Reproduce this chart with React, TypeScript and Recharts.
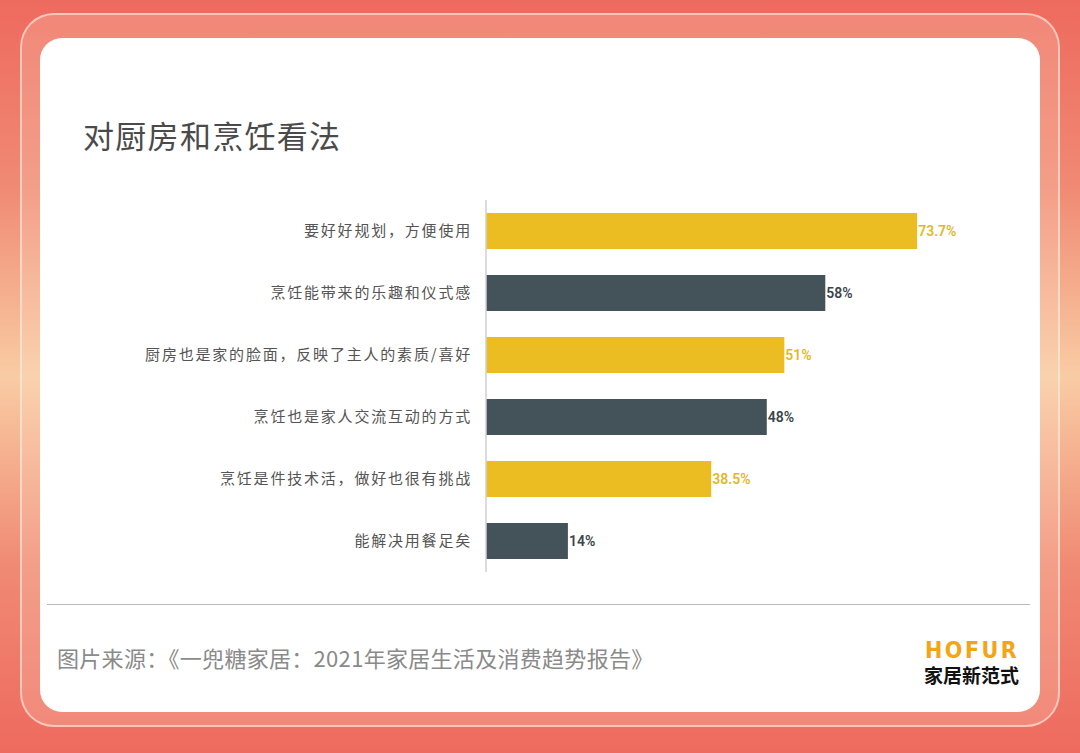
import React from "react";
import { BarChart, Bar, XAxis, YAxis, Cell, LabelList } from "recharts";

const categories = [
  "要好好规划，方便使用",
  "烹饪能带来的乐趣和仪式感",
  "厨房也是家的脸面，反映了主人的素质/喜好",
  "烹饪也是家人交流互动的方式",
  "烹饪是件技术活，做好也很有挑战",
  "能解决用餐足矣",
];
const shares = [73.7, 58, 51, 48, 38.5, 14];
const shareLabels = ["73.7%", "58%", "51%", "48%", "38.5%", "14%"];

const barColors = ["#ebbd22", "#44525a"];
const labelColors = ["#e2b828", "#3b454c"];

const data = categories.map((name, i) => ({ name, value: shares[i], label: shareLabels[i] }));

const cjk = '"Noto Sans CJK SC", "Noto Sans", sans-serif';

const ValueLabel = (props: any) => {
  const { x, y, width, height, index } = props;
  return (
    <text
      x={x + width + 1}
      y={y + height / 2}
      dominantBaseline="central"
      fill={labelColors[index % 2]}
      fontFamily='Roboto, "Noto Sans", sans-serif'
      fontWeight={600}
      fontSize={14}
    >
      {data[index].label}
    </text>
  );
};

export default function App() {
  return (
    <div
      style={{
        position: "absolute",
        left: 0,
        top: 0,
        width: 1080,
        height: 753,
        overflow: "hidden",
        background:
          "linear-gradient(180deg, #ee6a5e 0%, #f08a74 25%, #f9cca4 50%, #f08a74 75%, #ee6a5e 100%)",
        fontFamily: cjk,
      }}
    >
      <div
        style={{
          position: "absolute",
          left: 20,
          top: 13,
          width: 1036,
          height: 710,
          borderRadius: 34,
          border: "2px solid rgba(255,240,230,0.6)",
          background: "rgba(255,230,210,0.22)",
        }}
      />
      <div
        style={{
          position: "absolute",
          left: 40,
          top: 38,
          width: 1000,
          height: 674,
          borderRadius: 22,
          background: "#ffffff",
        }}
      />
      <div
        style={{
          position: "absolute",
          left: 83,
          top: 112,
          fontSize: 31,
          color: "#4a4a4a",
          letterSpacing: 1.3,
          whiteSpace: "nowrap",
        }}
      >
        对厨房和烹饪看法
      </div>
      <div style={{ position: "absolute", left: 40, top: 190 }}>
        <BarChart
          width={1000}
          height={400}
          data={data}
          layout="vertical"
          margin={{ top: 10, right: 86, bottom: 18, left: 0 }}
          barCategoryGap="21%"
        >
          <XAxis type="number" domain={[0, 80]} hide />
          <YAxis
            type="category"
            dataKey="name"
            width={446}
            tickLine={false}
            tickMargin={8}
            axisLine={{ stroke: "#d0d0d0", strokeWidth: 1.5 }}
            interval={0}
            tick={{ fill: "#555555", fontSize: 15, fontFamily: cjk, letterSpacing: 1.8 }}
          />
          <Bar dataKey="value" isAnimationActive={false}>
            {data.map((d, i) => (
              <Cell key={d.name} fill={barColors[i % 2]} />
            ))}
            <LabelList dataKey="label" content={ValueLabel} />
          </Bar>
        </BarChart>
      </div>
      <div
        style={{
          position: "absolute",
          left: 47,
          top: 604,
          width: 983,
          height: 0,
          borderTop: "1.5px solid #b8b8b8",
        }}
      />
      <div
        style={{
          position: "absolute",
          left: 57,
          top: 641,
          fontSize: 22,
          color: "#8a8a8a",
          whiteSpace: "nowrap",
          letterSpacing: 0.3,
        }}
      >
        图片来源：《一兜糖家居：2021年家居生活及消费趋势报告》
      </div>
      <div
        style={{
          position: "absolute",
          left: 925,
          top: 638,
          width: 94,
          textAlign: "center",
          fontFamily: '"Liberation Sans Narrow", "DejaVu Sans Condensed", Roboto, sans-serif',
          fontWeight: 700,
          fontSize: 23,
          lineHeight: "24px",
          color: "#f2a516",
          letterSpacing: 2.5,
        }}
      >
        HOFUR
      </div>
      <div
        style={{
          position: "absolute",
          left: 924,
          top: 663,
          fontSize: 19,
          lineHeight: "24px",
          fontWeight: 700,
          color: "#111111",
          whiteSpace: "nowrap",
        }}
      >
        家居新范式
      </div>
    </div>
  );
}
